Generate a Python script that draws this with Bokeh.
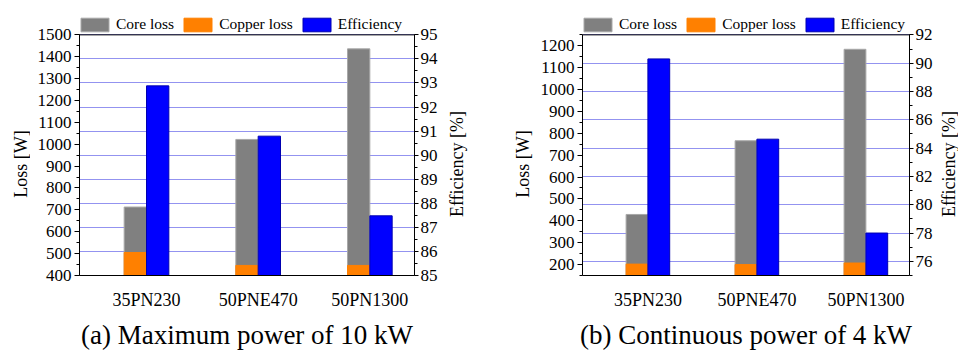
import math
import numpy as np
from bokeh.plotting import figure
from bokeh.layouts import row
from bokeh.models import (Range1d, LinearAxis, SingleIntervalTicker, FixedTicker,
                          Grid, Legend, LegendItem, Title, Span, Label)
from bokeh.embed import file_html
from bokeh.resources import INLINE

# ---------------- data ----------------
categories = ["35PN230", "50PNE470", "50PN1300"]

# (a) Maximum power of 10 kW
core_loss_a = [713, 1022, 1436]      # top of grey bar [W]
copper_loss_a = [505, 446, 446]      # top of orange bar [W]
efficiency_a = [92.88, 90.79, 87.48] # [%]

# (b) Continuous power of 4 kW
core_loss_b = [429, 766, 1184]
copper_loss_b = [202, 200, 207]
efficiency_b = [90.3, 84.63, 78.0]

loss_ticks_a = (400, 1500, 100)
eff_ticks_a = (85, 95, 1)
loss_ticks_b = (150, 1250, 100)
eff_ticks_b = (75, 92, 2)

titles = ["(a) Maximum power of 10 kW", "(b) Continuous power of 4 kW"]
loss_label = "Loss [W]"
eff_label = "Efficiency [%]"

FONT = "Liberation Serif"
GREY = "#808080"
ORANGE = "#ff8000"
BLUE = "#0000ff"
GRID = "#9393f0"
FIG_H = 354
BOX_TOP = 35        # top of the drawn plot box
BOX_H = 247         # height of the drawn plot box
PAD = 25            # room above the box (inside the frame) for the legend
FRAME_TOP = BOX_TOP - PAD
BOTTOM = FIG_H - BOX_TOP - BOX_H
LABEL_CY = BOX_TOP + BOX_H - 170.5   # centre of the axis titles, above frame bottom


def ext(lo, hi):
    return Range1d(lo, hi + (hi - lo) * PAD / BOX_H)


def label_strip(width, text, x_mid):
    s = figure(width=width, height=FIG_H, output_backend="svg", toolbar_location=None,
               x_axis_location=None, y_axis_location=None, title=None,
               x_range=Range1d(0, 1), y_range=Range1d(0, 1),
               min_border_left=0, min_border_right=0,
               min_border_top=FRAME_TOP, min_border_bottom=BOTTOM)
    s.outline_line_color = None
    s.xgrid.visible = False
    s.ygrid.visible = False
    s.background_fill_color = "white"
    s.border_fill_color = "white"
    s.add_layout(Label(x=x_mid, y=LABEL_CY, x_units="screen", y_units="screen",
                       text=text, angle=math.pi / 2, text_align="center",
                       text_baseline="middle", text_font=FONT,
                       text_font_size="18px", text_color="black"))
    return s


def make_chart(core, copper, eff, lt, et, title, width, bl, br):
    p = figure(width=width, height=FIG_H, output_backend="svg", toolbar_location=None,
               x_range=Range1d(-0.6, 2.4), y_range=ext(lt[0], lt[1]),
               min_border_left=bl, min_border_right=br,
               min_border_top=FRAME_TOP, min_border_bottom=BOTTOM)
    p.extra_y_ranges = {"eff": ext(et[0], et[1])}
    p.outline_line_color = None
    p.background_fill_color = "white"
    p.border_fill_color = "white"
    p.xgrid.visible = False
    p.ygrid.visible = False

    x = np.arange(len(categories))
    r_core = p.vbar(x=x - 0.1, width=0.2, bottom=0, top=core,
                    fill_color=GREY, line_color="#a8a8a8", line_width=1)
    r_cu = p.vbar(x=x - 0.1, width=0.2, bottom=0, top=copper,
                  fill_color=ORANGE, line_color=ORANGE, line_width=1)
    r_eff = p.vbar(x=x + 0.1, width=0.2, bottom=0, top=eff, y_range_name="eff",
                   fill_color=BLUE, line_color="#0000b0", line_width=1)

    eff_ticker = SingleIntervalTicker(interval=et[2], num_minor_ticks=2)
    p.add_layout(Grid(dimension=1, ticker=eff_ticker, y_range_name="eff",
                      bounds=(et[0], et[1]),
                      grid_line_color=GRID, grid_line_width=1))
    # top edge of the plot box
    p.add_layout(Span(location=lt[1], dimension="width", line_color="black",
                      line_width=1))

    # x axis
    xa = p.xaxis[0]
    xa.ticker = FixedTicker(ticks=list(range(len(categories))))
    xa.major_label_overrides = {i: c for i, c in enumerate(categories)}
    xa.major_tick_line_color = None
    xa.minor_tick_line_color = None
    xa.major_label_text_font = FONT
    xa.major_label_text_font_size = "18px"
    xa.major_label_text_color = "black"
    xa.major_label_standoff = 8
    xa.axis_line_color = "black"

    # left axis
    ya = p.yaxis[0]
    ya.bounds = (lt[0], lt[1])
    ya.ticker = SingleIntervalTicker(interval=lt[2], num_minor_ticks=2)
    ya.major_label_text_font = FONT
    ya.major_label_text_font_size = "17px"
    ya.major_label_text_color = "black"
    ya.major_label_standoff = 3
    ya.major_tick_out = 5
    ya.major_tick_in = 0
    ya.minor_tick_out = 3
    ya.minor_tick_in = 0
    ya.axis_line_color = "black"
    ya.major_tick_line_color = "black"
    ya.minor_tick_line_color = "black"

    # right axis
    ra = LinearAxis(y_range_name="eff", ticker=eff_ticker, bounds=(et[0], et[1]))
    ra.major_label_text_font = FONT
    ra.major_label_text_font_size = "17px"
    ra.major_label_text_color = "black"
    ra.major_label_standoff = 2
    ra.major_tick_out = 4
    ra.major_tick_in = 0
    ra.minor_tick_out = 3
    ra.minor_tick_in = 0
    ra.axis_line_color = "black"
    ra.major_tick_line_color = "black"
    ra.minor_tick_line_color = "black"
    p.add_layout(ra, "right")

    legend = Legend(items=[LegendItem(label="Core loss", renderers=[r_core]),
                           LegendItem(label="Copper loss", renderers=[r_cu]),
                           LegendItem(label="Efficiency", renderers=[r_eff])],
                    orientation="horizontal", location=(-2, BOX_H + 4 - 9),
                    glyph_width=35, glyph_height=17, label_standoff=4, spacing=6,
                    padding=0, margin=0, border_line_color=None,
                    background_fill_alpha=0,
                    label_text_font=FONT, label_text_font_size="15.5px",
                    label_text_color="black", label_height=17)
    p.add_layout(legend, "center")

    p.add_layout(Title(text=title, align="center", text_font=FONT,
                       text_font_size="27px", text_font_style="normal",
                       text_color="black"), "below")
    return p


la = label_strip(30, loss_label, 20)
pa = make_chart(core_loss_a, copper_loss_a, efficiency_a, loss_ticks_a, eff_ticks_a,
                titles[0], 410, 49, 26)
ra_lab = label_strip(50, eff_label, 16.6)
lb = label_strip(45, loss_label, 32.6)
pb = make_chart(core_loss_b, copper_loss_b, efficiency_b, loss_ticks_b, eff_ticks_b,
                titles[1], 400, 47, 24)
rb_lab = label_strip(23, eff_label, 13.5)

layout = row(la, pa, ra_lab, lb, pb, rb_lab, spacing=0)
open("out.html", "w").write(file_html(layout, INLINE))
